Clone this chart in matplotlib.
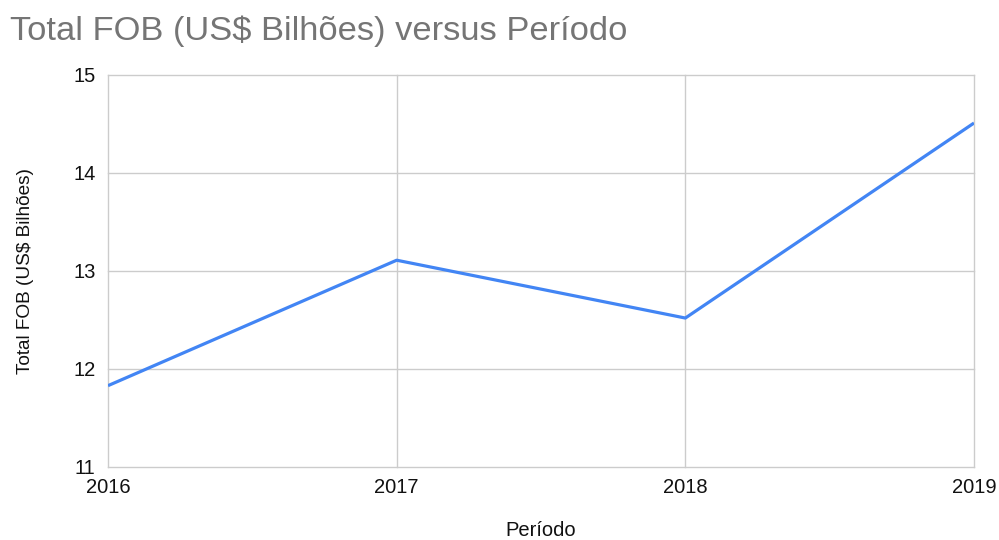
import matplotlib.pyplot as plt

periodo = [2016, 2017, 2018, 2019]
total_fob = [11.83, 13.11, 12.52, 14.51]
y_ticks = [11, 12, 13, 14, 15]

plt.rcParams['font.family'] = ['Liberation Sans', 'DejaVu Sans']

fig = plt.figure(figsize=(9.99, 5.4), dpi=100)
ax = fig.add_axes([108 / 999, 1 - 467 / 540, (974 - 108) / 999, (467 - 75) / 540])

ax.plot(periodo, total_fob, color='#4285f4', linewidth=2.3, solid_capstyle='butt', zorder=3)

ax.set_xlim(2016, 2019)
ax.set_ylim(11, 15)
ax.set_xticks(periodo)
ax.set_xticklabels([str(p) for p in periodo])
ax.set_yticks(y_ticks)
ax.grid(True, color='#cccccc', linewidth=1.0)
for line in ax.get_xgridlines() + ax.get_ygridlines():
    line.set_clip_on(False)
for s in ax.spines.values():
    s.set_visible(False)
ax.tick_params(length=0, labelsize=14.5, colors='#111111')
ax.tick_params(axis='x', pad=8)
ax.tick_params(axis='y', pad=9)

ax.set_xlabel('Período', fontsize=14.5, color='#111111', labelpad=17)
ax.set_ylabel('Total FOB (US$ Bilhões)', fontsize=13.7, color='#111111', labelpad=28)
fig.text(10 / 999, 1 - 31 / 540, 'Total FOB (US$ Bilhões) versus Período', fontsize=24.8,
         color='#757575', va='center', ha='left')

fig.savefig('out.png', dpi=100)
